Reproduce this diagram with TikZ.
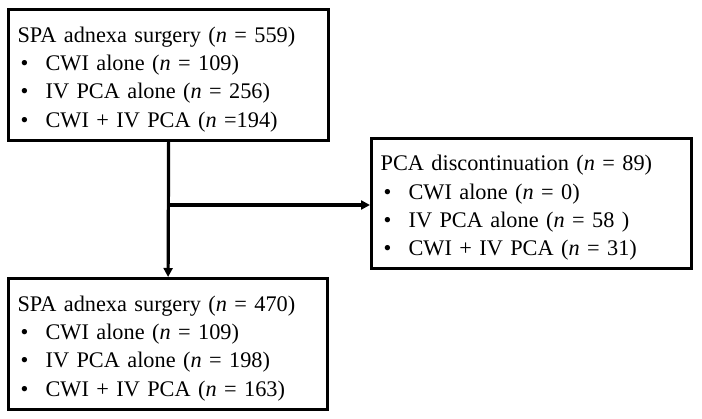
\documentclass[tikz,border=0pt]{standalone}
\usepackage{fontspec}
\setmainfont{Liberation Serif}
\usetikzlibrary{arrows.meta}
\newcommand{\bul}{\hspace*{3pt}\makebox[25pt][l]{\textbullet}}
\newcommand{\nn}{\textit{n}}
\newcommand{\topstrut}{\rule{0pt}{24pt}}
\begin{document}
\begin{tikzpicture}[x=1pt,y=1pt,
  flowbox/.style={draw, line width=3.2pt, anchor=north west, inner xsep=9pt, inner ysep=0pt,
    align=left, font=\fontsize{22.3}{28.2}\selectfont},
  conn/.style={line width=3.2pt, -{Triangle[length=9pt,width=9pt]}}]
\useasboundingbox (0,0) rectangle (702,-419);
\node[flowbox, text width=302pt, minimum height=131pt] (b1) at (7,-8)
 {\topstrut SPA adnexa surgery (\nn{} = 559)\\
  \bul CWI alone (\nn{} = 109)\\
  \bul IV PCA alone (\nn{} = 256)\\
  \bul CWI + IV PCA (\nn{} =194)};
\node[flowbox, text width=302pt, minimum height=130pt] (b2) at (370,-137)
 {\topstrut PCA discontinuation (\nn{} = 89)\\
  \bul CWI alone (\nn{} = 0)\\
  \bul IV PCA alone (\nn{} = 58 )\\
  \bul CWI + IV PCA (\nn{} = 31)};
\node[flowbox, text width=301pt, minimum height=131pt] (b3) at (7,-277)
 {\topstrut SPA adnexa surgery (\nn{} = 470)\\
  \bul CWI alone (\nn{} = 109)\\
  \bul IV PCA alone (\nn{} = 198)\\
  \bul CWI + IV PCA (\nn{} = 163)};
\coordinate (j) at (b1.south |- 0,-205);
\draw[conn] (b1.south) -- (b3.north);
\draw[conn] (j) -- (b2.west |- j);
\end{tikzpicture}
\end{document}
